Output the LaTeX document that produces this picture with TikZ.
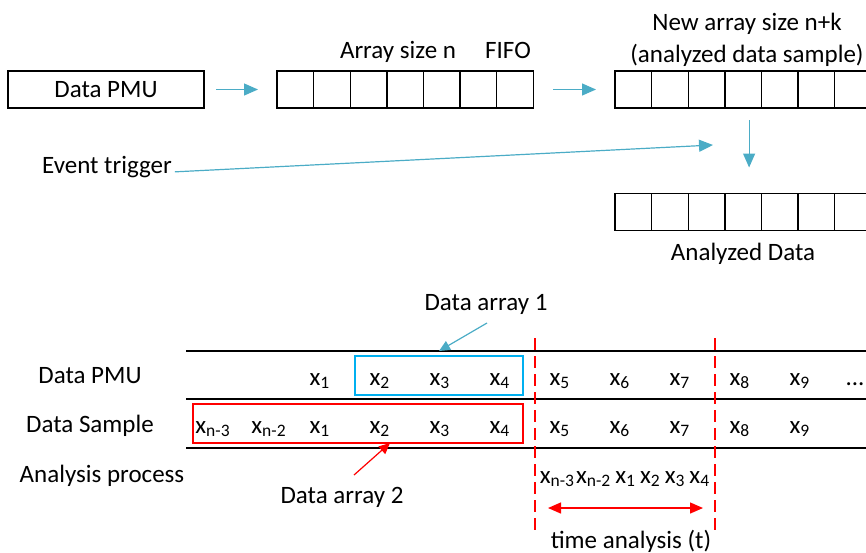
\documentclass[tikz,border=0pt]{standalone}
\usepackage{fontspec}
\setmainfont{Carlito}
\usepackage{xcolor}
\usetikzlibrary{arrows.meta, positioning, calc}

\definecolor{flowblue}{HTML}{4BACC6}
\definecolor{boxblue}{HTML}{00B0F0}
\definecolor{boxred}{HTML}{FF0000}

\newcommand{\xs}[1]{x\textsubscript{#1}}

\begin{document}
\begin{tikzpicture}[
    x=0.5pt, y=-0.5pt,
    every node/.style={font=\fontsize{12.5}{15}\selectfont, inner sep=0pt, outer sep=0pt},
    txt/.style={anchor=base},
    cell/.style={rectangle, draw, line width=0.7pt, minimum width=18.3pt, minimum height=18.5pt},
    block/.style={rectangle, draw, line width=0.7pt, minimum width=98pt, minimum height=18.5pt},
    window/.style={rectangle, draw, line width=0.75pt, minimum height=19.5pt},
    flow/.style={draw=flowblue, line width=0.6pt, -{Triangle[length=7pt, width=6pt]}},
    pointer/.style={line width=0.6pt, -{Triangle[length=5.5pt, width=5pt]}},
    span/.style={draw=boxred, line width=0.7pt, {Triangle[length=6.5pt, width=5.5pt]}-{Triangle[length=6.5pt, width=5.5pt]}},
    cut/.style={draw=boxred, line width=0.6pt, dash pattern=on 6pt off 3pt},
    rule/.style={line width=0.75pt}
]
    \useasboundingbox (0,0) rectangle (866,552);
    \clip (0,0) rectangle (866,552);

    % buffering stage
    \node (pmu) [block] at (106,89.5) {Data PMU};
    \foreach \i in {1,...,7}
        \node (fifo-\i) [cell] at ({277+36.6*(\i-0.5)},89.5) {};
    \node (fifolbl) [txt] at (398,58) {Array size n};
    \node (fifotag) [txt] at (508,58) {FIFO};

    % extended array and analysed output
    \foreach \i in {1,...,8} {
        \node (newarr-\i) [cell] at ({615+36.6*(\i-0.5)},89.5) {};
        \node (outarr-\i) [cell] at ({615+36.6*(\i-0.5)},212) {};
    }
    \node (newlbl) [txt] at (747,30) {New array size n+k};
    \node (newlbl2) [txt] at (747,62) {(analyzed data sample)};
    \node (outlbl) [txt] at (743,260) {Analyzed Data};

    \node (evt) [txt] at (107,173) {Event trigger};
    \coordinate (trig) at (713,145);

    \draw [flow, shorten <=6pt, shorten >=9.5pt] (pmu.east) -- (fifo-1.west);
    \draw [flow, shorten <=10pt, shorten >=9.5pt] (fifo-7.east) -- (newarr-1.west);
    \draw [flow, shorten <=1.5pt] ([yshift=0.5pt]evt.base east) -- (trig);
    \draw [flow] ([xshift=3pt, yshift=-6pt]newarr-4.south) -- ([xshift=3pt, yshift=13pt]outarr-4.north);

    % timeline rows
    \draw [rule] (186,351) -- (866,351);
    \draw [rule] (186,399) -- (866,399);
    \draw [rule] (186,448) -- (866,448);

    \node (rowpmu) [txt] at (90,383) {Data PMU};
    \node (rowsmp) [txt] at (90,432) {Data Sample};
    \node (rowana) [txt] at (102,482) {Analysis process};

    \foreach \i in {1,...,9} {
        \node (pmu-\i) [txt] at ({260+60*\i},385) {\xs{\i}};
        \node (smp-\i) [txt] at ({260+60*\i},433) {\xs{\i}};
    }
    \node (pmu-more) [txt] at (855,385) {...};
    \node (smp-a) [txt] at (213,433) {\xs{n-3}};
    \node (smp-b) [txt] at (269,433) {\xs{n-2}};
    \node (anaseq) [txt] at (625,483) {\xs{n-3}\hspace{0.5pt}\xs{n-2}\hspace{2pt}\xs{1}\hspace{2pt}\xs{2}\hspace{2pt}\xs{3}\hspace{2pt}\xs{4}};

    % data windows
    \node (array1) [window, draw=boxblue, minimum width=84pt] at (439,375.5) {};
    \node (array2) [window, draw=boxred, minimum width=165pt] at (358,423.5) {};
    \node (da1lbl) [txt] at (486,310) {Data array 1};
    \node (da2lbl) [txt] at (342,503) {Data array 2};
    \coordinate (a1from) at (487,323);
    \coordinate (a2from) at (354,475);
    \draw [pointer, draw=flowblue, fill=flowblue] (a1from) -- ([yshift=2.5pt]array1.north);
    \draw [pointer, draw=boxred, fill=boxred] (a2from) -- ([xshift=16pt]array2.south);

    % analysis window
    \draw [cut] (535,338) -- (535,532);
    \draw [cut] (715,338) -- (715,532);
    \coordinate (tstart) at (548,508);
    \coordinate (tend) at (703,508);
    \draw [span] (tstart) -- (tend);
    \node (tlbl) [txt] at (631,548) {time analysis (t)};
\end{tikzpicture}
\end{document}
